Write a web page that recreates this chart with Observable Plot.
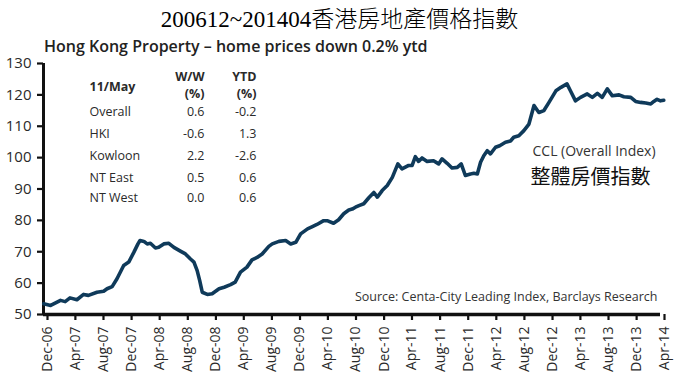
<!DOCTYPE html>
<html>
<head>
<meta charset="utf-8">
<script src="https://cdn.jsdelivr.net/npm/d3@7"></script>
<script src="https://cdn.jsdelivr.net/npm/@observablehq/plot@0.6"></script>
<style>
  html, body { margin: 0; padding: 0; background: #fff; }
  #wrap { width: 679px; height: 385px; position: relative; overflow: hidden; }
  #title { position: absolute; left: 0; top: 0; width: 679px; height: 40px; line-height: 40px; text-align: center; font-family: "Liberation Serif", "Noto Sans CJK TC", serif; font-weight: 300; font-size: 23px; color: #000; white-space: nowrap; z-index: 2; }
  #subtitle { position: absolute; left: 44px; top: 37px; height: 18px; line-height: 18px; font-family: "Open Sans", sans-serif; font-weight: 600; font-size: 16px; color: #222; white-space: nowrap; z-index: 2; }
  #chart { position: absolute; left: 0; top: 52px; z-index: 1; }
</style>
</head>
<body>
<div id="wrap">
  <div id="title">200612~201404香港房地產價格指數</div>
  <div id="subtitle">Hong Kong Property – home prices down 0.2% ytd</div>
  <div id="chart"></div>
</div>
<script>
// ---- data ----
const tickLabels = ["Dec-06","Apr-07","Aug-07","Dec-07","Apr-08","Aug-08","Dec-08","Apr-09","Aug-09","Dec-09","Apr-10","Aug-10","Dec-10","Apr-11","Aug-11","Dec-11","Apr-12","Aug-12","Dec-12","Apr-13","Aug-13","Dec-13","Apr-14"];
const yTicks = [50, 60, 70, 80, 90, 100, 110, 120, 130];

const dates = [
  "2006-12-02","2007-01-01","2007-02-13","2007-03-05","2007-03-26","2007-04-25","2007-05-24","2007-06-14","2007-07-21","2007-08-19",
  "2007-09-03","2007-09-25","2007-10-16","2007-11-14","2007-12-06","2007-12-28","2008-01-15","2008-01-24","2008-02-10","2008-02-24",
  "2008-03-09","2008-03-31","2008-04-14","2008-05-06","2008-05-28","2008-06-19","2008-07-17","2008-08-08","2008-08-30","2008-09-14",
  "2008-09-28","2008-10-09","2008-10-20","2008-11-11","2008-12-02","2009-01-01","2009-01-23","2009-02-20","2009-03-12","2009-04-04",
  "2009-05-02","2009-05-24","2009-06-15","2009-07-07","2009-08-05","2009-08-20","2009-09-18","2009-10-17","2009-11-08","2009-11-30",
  "2009-12-21","2010-01-20","2010-02-10","2010-03-02","2010-03-31","2010-04-15","2010-05-13","2010-06-04","2010-06-26","2010-07-18",
  "2010-08-02","2010-08-16","2010-08-31","2010-09-21","2010-10-13","2010-11-04","2010-11-19","2010-12-10","2011-01-01","2011-01-23",
  "2011-02-16","2011-03-06","2011-04-04","2011-04-19","2011-05-03","2011-05-17","2011-06-01","2011-06-23","2011-07-21","2011-08-12",
  "2011-08-27","2011-09-18","2011-10-09","2011-11-01","2011-11-18","2011-12-06","2011-12-28","2012-01-12","2012-01-27","2012-02-10",
  "2012-02-24","2012-03-10","2012-03-24","2012-04-15","2012-05-03","2012-05-28","2012-06-19","2012-07-03","2012-07-25","2012-08-16",
  "2012-09-07","2012-09-29","2012-10-20","2012-11-11","2012-12-03","2013-01-02","2013-01-24","2013-02-19","2013-03-06","2013-03-28",
  "2013-04-19","2013-05-18","2013-06-09","2013-07-01","2013-07-22","2013-08-13","2013-09-04","2013-10-03","2013-10-24","2013-11-23",
  "2013-12-14","2014-01-05","2014-01-27","2014-02-18","2014-03-03","2014-03-17","2014-04-01","2014-04-15"
];
const values = [
  53.4, 52.9, 54.5, 54.1, 55.3, 54.7, 56.4, 56.1, 57.1, 57.4,
  58.2, 58.9, 61.4, 65.6, 66.7, 69.8, 72.5, 73.6, 73.3, 72.5,
  72.7, 71.2, 71.4, 72.5, 72.7, 71.4, 70.2, 69.3, 67.7, 66.7,
  64.0, 60.8, 57.1, 56.4, 56.6, 58.2, 58.7, 59.5, 60.3, 63.5,
  65.1, 67.4, 68.2, 69.3, 71.7, 72.5, 73.3, 73.6, 72.5, 73.0,
  75.7, 77.3, 78.0, 78.7, 79.9, 79.9, 79.1, 80.2, 82.1, 83.3,
  83.6, 84.2, 84.7, 85.3, 87.2, 88.9, 87.4, 89.5, 91.1, 93.7,
  98.0, 96.4, 97.5, 97.5, 100.3, 98.8, 99.9, 98.8, 99.0, 98.0,
  99.6, 98.2, 96.7, 96.9, 98.0, 94.3, 94.8, 95.0, 94.8, 98.5,
  100.6, 102.2, 101.2, 103.3, 103.8, 104.9, 105.3, 106.5, 107.0, 108.6,
  110.7, 116.6, 114.4, 115.0, 117.6, 121.3, 122.4, 123.5, 121.3, 118.1,
  119.2, 120.3, 119.2, 120.5, 119.2, 121.9, 119.7, 120.0, 119.4, 119.2,
  117.9, 117.6, 117.4, 117.1, 117.9, 118.6, 118.1, 118.3
];

const tableDate = "11/May";
const tableHeaders = ["W/W", "YTD"];
const tableUnits = ["(%)", "(%)"];
const tableRows = ["Overall", "HKI", "Kowloon", "NT East", "NT West"];
const tableWW = ["0.6", "-0.6", "2.2", "0.5", "0.0"];
const tableYTD = ["-0.2", "1.3", "-2.6", "0.6", "0.6"];

const seriesLabel = "CCL (Overall Index)";
const seriesLabelZh = "整體房價指數";
const sourceText = "Source: Centa-City Leading Index, Barclays Research";

// ---- build ----
const parseTick = d3.utcParse("%b-%y");
const tickDates = tickLabels.map(parseTick);
const series = dates.map((d, i) => ({date: new Date(d + "T00:00:00Z"), value: values[i]}));

const lineColor = "#0f3a5a";
const textColor = "#2a2a2a";
const tfont = "Open Sans";

const rowDy = [44, 66, 88, 109.5, 130];
const tableMarks = [];
tableMarks.push(Plot.text([tableDate], {text: d => d, frameAnchor: "top-left", dx: 46, dy: 19, textAnchor: "start", fontSize: 12.5, fontWeight: "bold", fill: textColor}));
tableHeaders.forEach((h, j) => {
  const dx = j === 0 ? 161 : 213;
  tableMarks.push(Plot.text([h], {text: d => d, frameAnchor: "top-left", dx, dy: 9, textAnchor: "end", fontSize: 12.5, fontWeight: "bold", fill: textColor}));
  tableMarks.push(Plot.text([tableUnits[j]], {text: d => d, frameAnchor: "top-left", dx, dy: 26, textAnchor: "end", fontSize: 12.5, fontWeight: "bold", fill: textColor}));
});
tableRows.forEach((r, i) => {
  tableMarks.push(Plot.text([r], {text: d => d, frameAnchor: "top-left", dx: 46, dy: rowDy[i], textAnchor: "start", fontSize: 12.5, fill: textColor}));
  tableMarks.push(Plot.text([tableWW[i]], {text: d => d, frameAnchor: "top-left", dx: 161, dy: rowDy[i], textAnchor: "end", fontSize: 12.5, fill: textColor}));
  tableMarks.push(Plot.text([tableYTD[i]], {text: d => d, frameAnchor: "top-left", dx: 213, dy: rowDy[i], textAnchor: "end", fontSize: 12.5, fill: textColor}));
});

const chart = Plot.plot({
  width: 679,
  height: 333,
  marginTop: 11,
  marginBottom: 71,
  marginLeft: 43,
  marginRight: 19,
  style: {fontFamily: tfont, fontSize: "14px", color: textColor, background: "transparent"},
  x: {type: "utc", domain: [tickDates[0], tickDates[tickDates.length - 1]]},
  y: {domain: [50, 130]},
  marks: [
    Plot.axisY({ticks: yTicks, tickSize: 6, tickPadding: 6, fontSize: 15, strokeWidth: 2.2, stroke: "#111", label: null}),
    Plot.axisX({ticks: tickDates, tickFormat: d3.utcFormat("%b-%y"), tickRotate: -90, tickSize: 6, tickPadding: 6, dx: 4, fontSize: 14, strokeWidth: 2.2, stroke: "#111", label: null}),
    Plot.ruleX([tickDates[0]], {stroke: "#111", strokeWidth: 3}),
    Plot.ruleY([50], {stroke: "#111", strokeWidth: 3.5}),
    Plot.line(series, {x: "date", y: "value", stroke: lineColor, strokeWidth: 3.6, strokeLinejoin: "round", strokeLinecap: "round"}),
    ...tableMarks,
    Plot.text([seriesLabel], {text: d => d, frameAnchor: "top-left", dx: 489, dy: 83, textAnchor: "start", fontSize: 14, fill: "#333"}),
    Plot.text([seriesLabelZh], {text: d => d, frameAnchor: "top-left", dx: 487, dy: 106, textAnchor: "start", fontSize: 20, fill: "#111", fontFamily: "Noto Sans CJK TC"}),
    Plot.text([sourceText], {text: d => d, frameAnchor: "bottom-right", dx: -3, dy: -14, textAnchor: "end", fontSize: 12.5, fill: "#333"})
  ]
});
document.getElementById("chart").appendChild(chart);
</script>
</body>
</html>
